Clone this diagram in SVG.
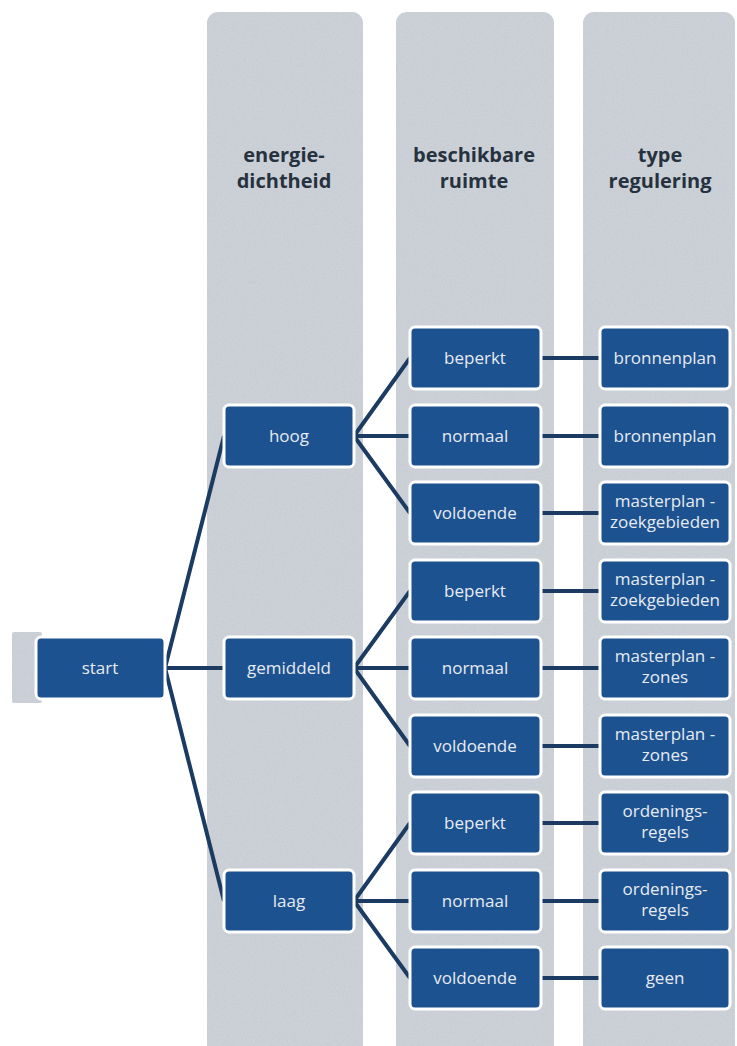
<svg xmlns="http://www.w3.org/2000/svg" width="737" height="1046" viewBox="0 0 737 1046">
<defs>
<filter id="grain" x="0" y="0" width="100%" height="100%">
<feTurbulence type="fractalNoise" baseFrequency="0.9" numOctaves="2" seed="4" result="n"/>
<feColorMatrix in="n" type="matrix" values="0 0 0 0 0.55  0 0 0 0 0.58  0 0 0 0 0.63  2 0 0 0 -0.85" result="g"/>
<feComposite in="g" in2="SourceGraphic" operator="atop"/>
</filter>
<style>
.panel{fill:#ccd1d8;filter:url(#grain)}
.box{fill:#1d5290;stroke:#ffffff;stroke-width:3}
.lbl{font-family:"Open Sans","Liberation Sans",sans-serif;font-size:17px;fill:#e6ebf2;text-anchor:middle}
.hdr{font-family:"Open Sans","Liberation Sans",sans-serif;font-size:20px;font-weight:bold;fill:#27323f;text-anchor:middle}
.con{stroke:#1b3b62;stroke-width:4;fill:none;stroke-linecap:butt}
</style>
</defs>
<rect width="737" height="1046" fill="#ffffff"/>

<g id="panels">
<rect class="panel" x="12" y="632" width="30" height="71" rx="2"/>
<rect class="panel" x="207" y="12" width="156" height="1050" rx="11"/>
<rect class="panel" x="396" y="12" width="158" height="1050" rx="11"/>
<rect class="panel" x="583" y="12" width="152" height="1050" rx="11"/>
</g>

<g id="headers">
<text class="hdr" x="284" y="162">energie-</text>
<text class="hdr" x="284" y="188">dichtheid</text>
<text class="hdr" x="474" y="162">beschikbare</text>
<text class="hdr" x="474" y="188">ruimte</text>
<text class="hdr" x="660" y="162">type</text>
<text class="hdr" x="660" y="188">regulering</text>
</g>

<g id="connectors">
<path class="con" d="M165 668 L224 436 M165 668 L224 668 M165 668 L224 901"/>
<path class="con" d="M354 436 L410 358 M354 436 L410 436 M354 436 L410 513"/>
<path class="con" d="M354 668 L410 591 M354 668 L410 668 M354 668 L410 746"/>
<path class="con" d="M354 901 L410 823 M354 901 L410 901 M354 901 L410 978"/>
<path class="con" d="M541 358 H600 M541 436 H600 M541 513 H600 M541 591 H600 M541 668 H600 M541 746 H600 M541 823 H600 M541 901 H600 M541 978 H600"/>
</g>

<g id="start"><rect class="box" x="36" y="637" width="129" height="62" rx="5"/><text class="lbl" x="100" y="674">start</text></g>

<g id="hoog"><rect class="box" x="224" y="405" width="130" height="62" rx="5"/><text class="lbl" x="289" y="442">hoog</text></g>
<g id="gemiddeld"><rect class="box" x="224" y="637" width="130" height="62" rx="5"/><text class="lbl" x="289" y="674">gemiddeld</text></g>
<g id="laag"><rect class="box" x="224" y="870" width="130" height="62" rx="5"/><text class="lbl" x="289" y="907">laag</text></g>

<g id="r1-beperkt"><rect class="box" x="410" y="327" width="131" height="62" rx="5"/><text class="lbl" x="475" y="364">beperkt</text></g>
<g id="r2-normaal"><rect class="box" x="410" y="405" width="131" height="62" rx="5"/><text class="lbl" x="475" y="442">normaal</text></g>
<g id="r3-voldoende"><rect class="box" x="410" y="482" width="131" height="62" rx="5"/><text class="lbl" x="475" y="519">voldoende</text></g>
<g id="r4-beperkt"><rect class="box" x="410" y="560" width="131" height="62" rx="5"/><text class="lbl" x="475" y="597">beperkt</text></g>
<g id="r5-normaal"><rect class="box" x="410" y="637" width="131" height="62" rx="5"/><text class="lbl" x="475" y="674">normaal</text></g>
<g id="r6-voldoende"><rect class="box" x="410" y="715" width="131" height="62" rx="5"/><text class="lbl" x="475" y="752">voldoende</text></g>
<g id="r7-beperkt"><rect class="box" x="410" y="792" width="131" height="62" rx="5"/><text class="lbl" x="475" y="829">beperkt</text></g>
<g id="r8-normaal"><rect class="box" x="410" y="870" width="131" height="62" rx="5"/><text class="lbl" x="475" y="907">normaal</text></g>
<g id="r9-voldoende"><rect class="box" x="410" y="947" width="131" height="62" rx="5"/><text class="lbl" x="475" y="984">voldoende</text></g>

<g id="t1"><rect class="box" x="600" y="327" width="130" height="62" rx="5"/><text class="lbl" x="665" y="364">bronnenplan</text></g>
<g id="t2"><rect class="box" x="600" y="405" width="130" height="62" rx="5"/><text class="lbl" x="665" y="442">bronnenplan</text></g>
<g id="t3"><rect class="box" x="600" y="482" width="130" height="62" rx="5"/><text class="lbl" x="665" y="507">masterplan -</text><text class="lbl" x="665" y="528">zoekgebieden</text></g>
<g id="t4"><rect class="box" x="600" y="560" width="130" height="62" rx="5"/><text class="lbl" x="665" y="585">masterplan -</text><text class="lbl" x="665" y="606">zoekgebieden</text></g>
<g id="t5"><rect class="box" x="600" y="637" width="130" height="62" rx="5"/><text class="lbl" x="665" y="662">masterplan -</text><text class="lbl" x="665" y="683">zones</text></g>
<g id="t6"><rect class="box" x="600" y="715" width="130" height="62" rx="5"/><text class="lbl" x="665" y="740">masterplan -</text><text class="lbl" x="665" y="761">zones</text></g>
<g id="t7"><rect class="box" x="600" y="792" width="130" height="62" rx="5"/><text class="lbl" x="665" y="817">ordenings-</text><text class="lbl" x="665" y="838">regels</text></g>
<g id="t8"><rect class="box" x="600" y="870" width="130" height="62" rx="5"/><text class="lbl" x="665" y="895">ordenings-</text><text class="lbl" x="665" y="916">regels</text></g>
<g id="t9"><rect class="box" x="600" y="947" width="130" height="62" rx="5"/><text class="lbl" x="665" y="984">geen</text></g>
</svg>
